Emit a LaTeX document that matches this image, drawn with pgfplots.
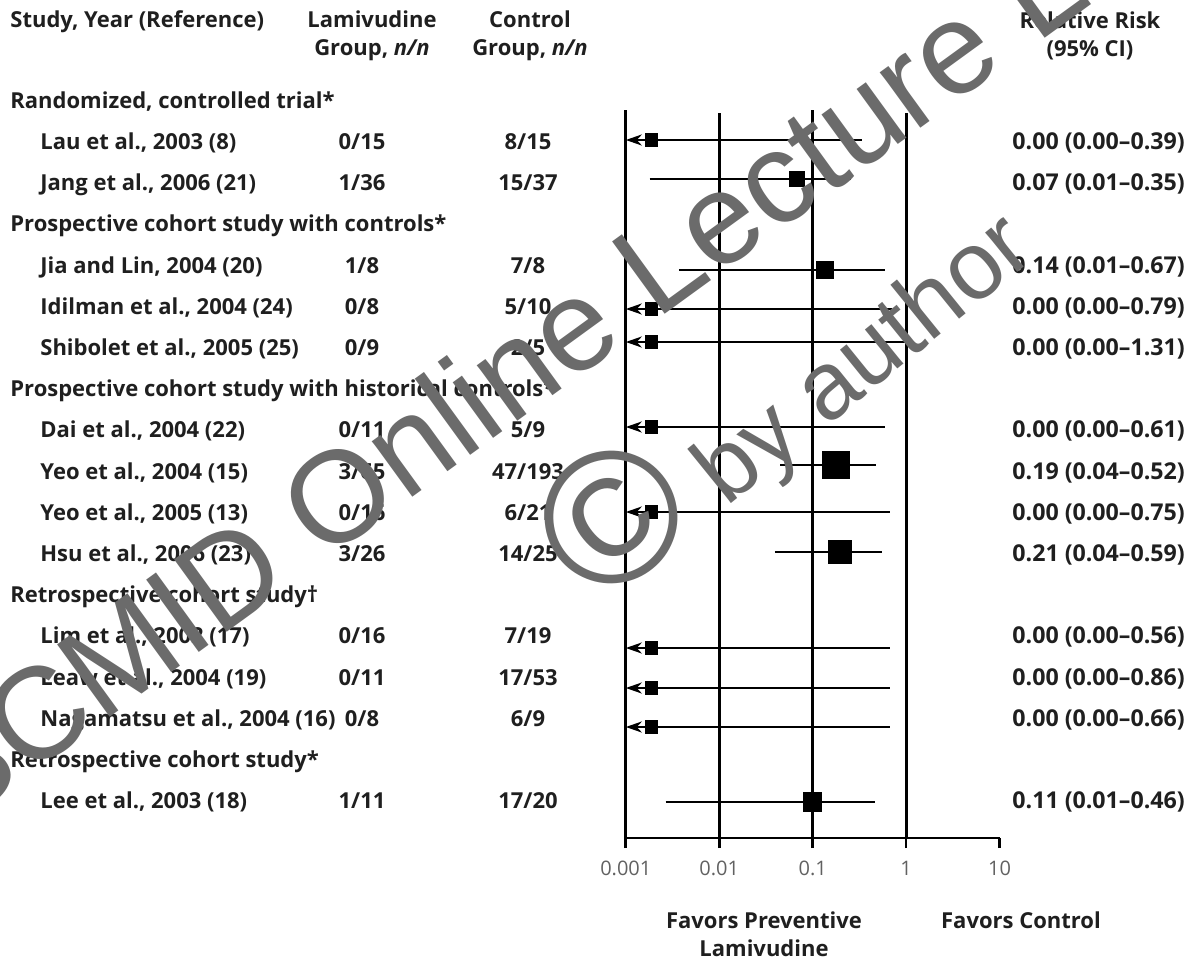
\documentclass[border=0pt]{standalone}
\usepackage{pgfplots}
\pgfplotsset{compat=1.18}
\usetikzlibrary{arrows.meta}
\usepackage{fontspec}
\setmainfont{Open Sans}
\newfontfamily\tickfont{Open Sans}
\newfontfamily\wmfont{Liberation Sans}
\newcommand\rf{\fontsize{11}{13}\selectfont\bfseries}
\newcommand\rrf{\fontsize{11.6}{13}\selectfont\bfseries}
\begin{document}
\begin{tikzpicture}
\begin{axis}[
  at={(312.9pt,-419pt)}, anchor=south west,
  scale only axis, width=186.9pt, height=369pt,
  xmode=log, xmin=0.001, xmax=10, ymin=-838, ymax=-100,
  axis x line*=bottom, axis y line=none,
  xtick={0.001,0.01,0.1,1,10}, xticklabels={0.001,0.01,0.1,1,10},
  xminorticks=false,
  tick align=outside, major tick length=5pt,
  tick style={line width=1.3pt, black},
  axis line style={line width=1.4pt},
  xticklabel style={font=\tickfont\fontsize{10}{11}\selectfont, text=black!62, yshift=-3pt},
  clip=false,
]
% reference lines
\addplot[line width=1.4pt, black] coordinates {(0.001,-110) (0.001,-838)};
\addplot[line width=1.4pt, black] coordinates {(0.01,-113) (0.01,-838)};
\addplot[line width=1.4pt, black] coordinates {(0.1,-110) (0.1,-838)};
\addplot[line width=1.4pt, black] coordinates {(1,-113) (1,-838)};
% zero-estimate rows: CI truncated at left with arrow
\pgfplotsset{zr/.style={line width=1.15pt, black, {Stealth[length=8pt,width=5.5pt,inset=2.5pt]}-}}
\addplot[zr] coordinates {(0.001,-140) (0.337,-140)};
\addplot[zr] coordinates {(0.001,-309) (0.714,-309)};
\addplot[zr] coordinates {(0.001,-342) (1.22,-342)};
\addplot[zr] coordinates {(0.001,-427) (0.596,-427)};
\addplot[zr] coordinates {(0.001,-512) (0.678,-512)};
\addplot[zr] coordinates {(0.001,-648) (0.678,-648)};
\addplot[zr] coordinates {(0.001,-688) (0.678,-688)};
\addplot[zr] coordinates {(0.001,-727) (0.678,-727)};
\addplot[only marks, mark=square*, mark size=3.1pt, mark options={line width=0pt, fill=black}]
  coordinates {(0.00189,-140) (0.00189,-309) (0.00189,-342) (0.00189,-427) (0.00189,-512) (0.00189,-648) (0.00189,-688) (0.00189,-727)};
% non-zero rows
\pgfplotsset{ci/.style={line width=1.15pt, black}}
\addplot[ci] coordinates {(0.0018,-179) (0.26,-179)};
\addplot[ci] coordinates {(0.0037,-270) (0.596,-270)};
\addplot[ci] coordinates {(0.0447,-465) (0.472,-465)};
\addplot[ci] coordinates {(0.0395,-552) (0.552,-552)};
\addplot[ci] coordinates {(0.00267,-802) (0.46,-802)};
\addplot[only marks, mark=square*, mark size=3.75pt, mark options={line width=0pt, fill=black}] coordinates {(0.0677,-179)};
\addplot[only marks, mark=square*, mark size=4.25pt, mark options={line width=0pt, fill=black}] coordinates {(0.136,-270)};
\addplot[only marks, mark=square*, mark size=6.7pt, mark options={line width=0pt, fill=black}] coordinates {(0.177,-465)};
\addplot[only marks, mark=square*, mark size=5.9pt, mark options={line width=0pt, fill=black}] coordinates {(0.196,-552)};
\addplot[only marks, mark=square*, mark size=4.6pt, mark options={line width=0pt, fill=black}] coordinates {(0.1,-802)};
\end{axis}
\begin{scope}[x=0.5pt, y=-0.5pt, every node/.style={inner sep=0pt, font=\rf, text=black!88}]
% column headers
\node[anchor=base west] at (10,27) {Study, Year (Reference)};
\node[anchor=base] at (372,27) {Lamivudine};
\node[anchor=base] at (372,55) {Group, \textit{n/n}};
\node[anchor=base] at (530,27) {Control};
\node[anchor=base] at (530,55) {Group, \textit{n/n}};
\node[anchor=base] at (1090,28) {Relative Risk};
\node[anchor=base] at (1090,56) {(95\% CI)};
% section headers
\node[anchor=base west] at (10,108) {Randomized, controlled trial*};
\node[anchor=base west] at (10,231) {Prospective cohort study with controls*};
\node[anchor=base west] at (10,396) {Prospective cohort study with historical controls*};
\node[anchor=base west] at (10,602) {Retrospective cohort study†};
\node[anchor=base west] at (10,767) {Retrospective cohort study*};
% rows
\foreach \yy/\nm/\la/\ct/\rr in {
  149/{Lau et al., 2003 (8)}/{0/15}/{8/15}/{0.00 (0.00–0.39)},
  190/{Jang et al., 2006 (21)}/{1/36}/{15/37}/{0.07 (0.01–0.35)},
  273/{Jia and Lin, 2004 (20)}/{1/8}/{7/8}/{0.14 (0.01–0.67)},
  314/{Idilman et al., 2004 (24)}/{0/8}/{5/10}/{0.00 (0.00–0.79)},
  355/{Shibolet et al., 2005 (25)}/{0/9}/{2/5}/{0.00 (0.00–1.31)},
  437/{Dai et al., 2004 (22)}/{0/11}/{5/9}/{0.00 (0.00–0.61)},
  479/{Yeo et al., 2004 (15)}/{3/65}/{47/193}/{0.19 (0.04–0.52)},
  520/{Yeo et al., 2005 (13)}/{0/16}/{6/21}/{0.00 (0.00–0.75)},
  561/{Hsu et al., 2006 (23)}/{3/26}/{14/25}/{0.21 (0.04–0.59)},
  643/{Lim et al., 2002 (17)}/{0/16}/{7/19}/{0.00 (0.00–0.56)},
  685/{Leaw et al., 2004 (19)}/{0/11}/{17/53}/{0.00 (0.00–0.86)},
  726/{Nagamatsu et al., 2004 (16)}/{0/8}/{6/9}/{0.00 (0.00–0.66)},
  808/{Lee et al., 2003 (18)}/{1/11}/{17/20}/{0.11 (0.01–0.46)}} {
  \node[anchor=base west] at (40,\yy) {\nm};
  \node[anchor=base] at (362,\yy) {\la};
  \node[anchor=base] at (528,\yy) {\ct};
  \node[anchor=base west, font=\rrf] at (1012,\yy) {\rr};
}
% favors labels
\node[anchor=base] at (764,928) {Favors Preventive};
\node[anchor=base] at (764,956) {Lamivudine};
\node[anchor=base] at (1021,928) {Favors Control};
% watermark
\node[anchor=base west, rotate=36, font=\wmfont\fontsize{65}{65}\selectfont, text=black!58] at (-45,830) {SCMID Online Lecture Library};
\node[anchor=base west, rotate=39, font=\wmfont, text=black!58] at (598,612) {\fontsize{94}{94}\selectfont ©\fontsize{48}{48}\selectfont\ by author};
\pgfresetboundingbox
\path[use as bounding box] (0,0) rectangle (1191,959);
\end{scope}
\end{tikzpicture}
\end{document}
